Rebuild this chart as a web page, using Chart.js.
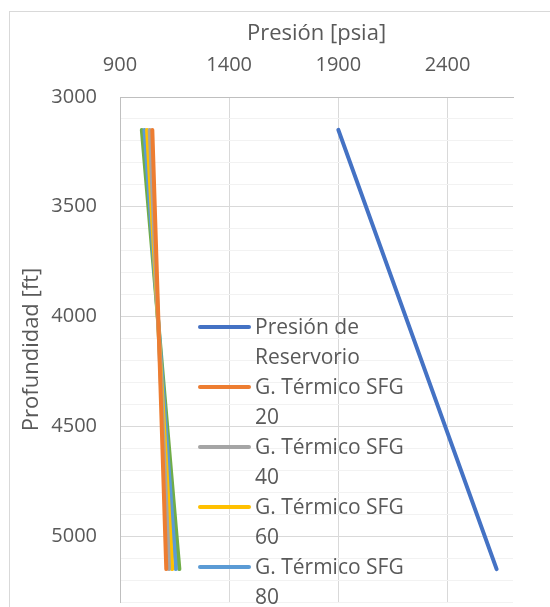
<!DOCTYPE html>
<html>
<head>
<meta charset="utf-8">
<script src="https://cdn.jsdelivr.net/npm/chart.js@4"></script>
<style>
  html, body { margin: 0; padding: 0; background: #fff; }
  #wrap { width: 550px; height: 607px; position: relative; }
</style>
</head>
<body>
<div id="wrap"><canvas id="myChart" width="550" height="607"></canvas></div>
<script>
// depth at which each profile starts / ends [ft]
var depths = [3150, 5150];

// pressure [psia] at those depths
var presReservorio = [1900, 2625];
var sfg20 = [1048, 1112];
var sfg40 = [1036, 1125];
var sfg60 = [1024, 1139];
var sfg80 = [1012, 1156];
var sfg100 = [1000, 1172];

var seriesNames = ["Presión de Reservorio", "G. Térmico SFG 20", "G. Térmico SFG 40",
  "G. Térmico SFG 60", "G. Térmico SFG 80", "G. Térmico SFG 100"];
var seriesValues = [presReservorio, sfg20, sfg40, sfg60, sfg80, sfg100];
var colors = ["#4472C4", "#ED7D31", "#A5A5A5", "#FFC000", "#5B9BD5", "#70AD47"];

var xTicks = [900, 1400, 1900, 2400];

var textColor = "#595959";
var fontFam = "'Open Sans', sans-serif";

function pts(vals) {
  return vals.map(function (p, i) { return { x: p, y: depths[i] }; });
}

var datasets = seriesValues.map(function (vals, i) {
  return {
    label: seriesNames[i],
    data: pts(vals),
    borderColor: colors[i],
    backgroundColor: colors[i],
    borderWidth: 4,
    borderCapStyle: "round",
    showLine: true,
    pointRadius: 0,
    fill: false
  };
});

// excel-like frame + legend drawn inside the plot
var frame = {
  id: "frame",
  beforeDraw: function (chart) {
    var ctx = chart.ctx;
    ctx.save();
    ctx.fillStyle = "#fff";
    ctx.fillRect(0, 0, chart.width, chart.height);
    ctx.strokeStyle = "#d9d9d9";
    ctx.lineWidth = 1;
    ctx.strokeRect(9.5, 11.5, 700, 700);
    ctx.restore();
  },
  afterDraw: function (chart) {
    var ctx = chart.ctx;
    var a = chart.chartArea;
    var x0 = a.left + 78, y0 = 327;
    ctx.save();
    ctx.font = "21px " + fontFam;
    ctx.fillStyle = textColor;
    ctx.textBaseline = "middle";
    chart.data.datasets.forEach(function (ds, i) {
      var y = y0 + i * 60;
      ctx.strokeStyle = ds.borderColor;
      ctx.lineWidth = 4;
      ctx.lineCap = "round";
      ctx.beginPath();
      ctx.moveTo(x0 + 2, y);
      ctx.lineTo(x0 + 51, y);
      ctx.stroke();
      var parts = i === 0 ? ["Presión de", "Reservorio"] : ["G. Térmico SFG", ds.label.split(" ").pop()];
      ctx.fillText(parts[0], x0 + 57, y + 1);
      ctx.fillText(parts[1], x0 + 57, y + 31);
    });
    ctx.restore();
  }
};

function noPad(s) {
  s.paddingTop = 0; s.paddingBottom = 0;
  s.paddingLeft = 0; s.paddingRight = 0;
}

new Chart("myChart", {
  type: "scatter",
  data: { datasets: datasets },
  plugins: [frame],
  options: {
    responsive: false,
    animation: false,
    layout: { padding: { left: 10, top: 12, right: 37, bottom: 5 } },
    plugins: {
      legend: { display: false },
      tooltip: { enabled: false }
    },
    scales: {
      x: {
        type: "linear",
        position: "top",
        min: 900,
        max: 2700,
        afterBuildTicks: function (s) {
          s.ticks = xTicks.map(function (v) { return { value: v }; });
        },
        afterFit: function (s) { s.height = 85; noPad(s); },
        title: {
          display: true,
          text: "Presión [psia]",
          color: textColor,
          font: { family: fontFam, size: 22 },
          padding: { top: 9, bottom: 0 }
        },
        ticks: {
          color: textColor,
          font: { family: fontFam, size: 20 },
          padding: 20,
          maxRotation: 0,
          callback: function (v) { return String(v); }
        },
        grid: { color: "#d9d9d9", drawTicks: false },
        border: { color: "#bfbfbf", width: 1 }
      },
      y: {
        type: "linear",
        reverse: true,
        min: 3000,
        max: 5300,
        afterFit: function (s) { s.width = 110; noPad(s); },
        title: {
          display: true,
          text: "Profundidad [ft]",
          color: textColor,
          font: { family: fontFam, size: 22 },
          padding: { top: 9, bottom: 0 }
        },
        ticks: {
          stepSize: 100,
          autoSkip: false,
          color: textColor,
          font: { family: fontFam, size: 20 },
          padding: 23,
          callback: function (v) { return v % 500 === 0 ? String(v) : ""; }
        },
        grid: {
          drawTicks: false,
          color: function (c) {
            return c.tick && c.tick.value % 500 === 0 ? "#d9d9d9" : "#f2f2f2";
          }
        },
        border: { color: "#bfbfbf", width: 1 }
      }
    }
  }
});
</script>
</body>
</html>
